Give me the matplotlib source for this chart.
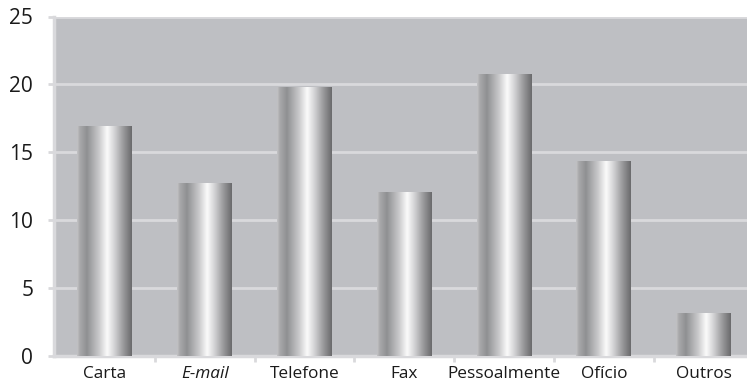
import numpy as np
import matplotlib
matplotlib.use("Agg")
import matplotlib.pyplot as plt
from matplotlib.colors import LinearSegmentedColormap

categories = ["Carta", "E-mail", "Telefone", "Fax", "Pessoalmente", "Ofício", "Outros"]
values = [16.9, 12.75, 19.8, 12.1, 20.75, 14.35, 3.15]
yticks = [0, 5, 10, 15, 20, 25]

BG = "#bebfc3"
GRID = "#d9d9dc"
FONT = "Open Sans"

# metallic cylinder shading, left -> right
metal = LinearSegmentedColormap.from_list("metal", [
    (0.00, "#c4c4c6"),
    (0.05, "#a9a9ab"),
    (0.18, "#8f9092"),
    (0.40, "#c9c9cb"),
    (0.55, "#fbfbfb"),
    (0.68, "#d4d4d6"),
    (0.85, "#98989a"),
    (1.00, "#6a6a6c"),
])

fig = plt.figure(figsize=(7.47, 3.84), dpi=100)
ax = fig.add_axes([54 / 747, (384 - 356) / 384, (747 - 54) / 747, (356 - 16.5) / 384])
ax.set_facecolor(BG)

x = np.arange(len(categories))
bars = ax.bar(x, values, width=0.55, color="none", edgecolor="none", zorder=3)
grad = np.linspace(0, 1, 256).reshape(1, -1)
for b in bars:
    x0, w, h = b.get_x(), b.get_width(), b.get_height()
    im = ax.imshow(grad, cmap=metal, aspect="auto", extent=[x0, x0 + w, 0, h],
                   interpolation="bilinear", zorder=3)
    im.set_clip_path(b)

ax.set_xlim(-0.51, -0.51 + (747 - 54) / 99.8)
ax.set_ylim(0, 25)
ax.set_yticks(yticks)
ax.yaxis.grid(True, color=GRID, linewidth=2, zorder=1)
ax.set_axisbelow(True)

ax.set_xticks(x)
ax.set_xticklabels(categories)
ax.set_xticks(np.arange(0.5, len(categories) - 0.5), minor=True)
ax.tick_params(axis="x", which="major", length=0, pad=7.5, labelsize=12.4, labelcolor="#1a1a1a")
ax.tick_params(axis="x", which="minor", length=4, width=2, color=GRID, direction="out")
ax.tick_params(axis="y", length=4, width=2, color=GRID, pad=11, labelsize=15, labelcolor="#1a1a1a")
for lab in ax.get_xticklabels():
    lab.set_fontfamily(FONT)
    if lab.get_text() == "E-mail":
        lab.set_style("italic")
for lab in ax.get_yticklabels():
    lab.set_fontfamily(FONT)

for s in ["top", "right"]:
    ax.spines[s].set_visible(False)
for s in ["left", "bottom"]:
    ax.spines[s].set_color(GRID)
    ax.spines[s].set_linewidth(2.5)

fig.savefig("out.png", dpi=100, facecolor="white")
